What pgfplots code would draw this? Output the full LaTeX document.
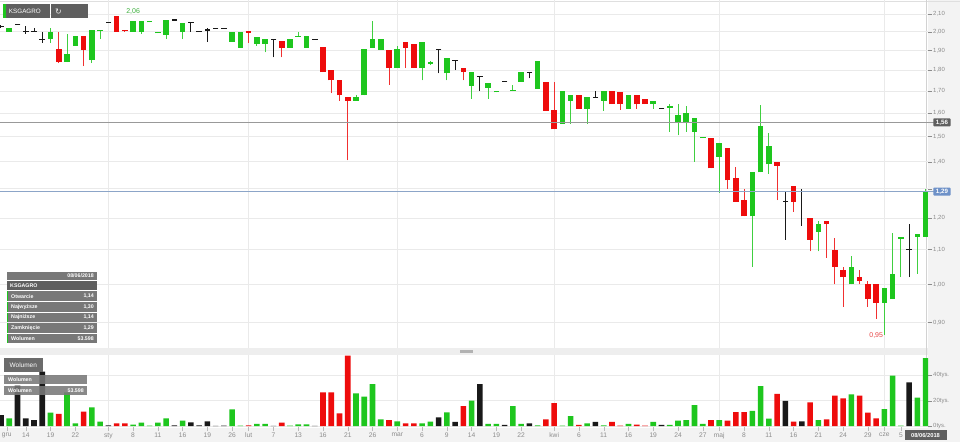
\documentclass[border=0pt]{standalone}
\usepackage{fontspec}
\setmainfont{Liberation Sans}
\newfontfamily\dejavu{DejaVu Sans}
\usepackage{pgfplots}
\usepackage{pgfplotstable}
\pgfplotsset{compat=1.18}
\definecolor{cgreen}{RGB}{30,198,30}
\definecolor{cred}{RGB}{238,12,12}
\definecolor{cblk}{RGB}{25,25,25}
\definecolor{gridc}{RGB}{234,234,234}
\definecolor{tickc}{RGB}{140,140,140}
\definecolor{stripc}{RGB}{243,243,243}
\definecolor{boxd}{RGB}{95,95,95}
\definecolor{boxl}{RGB}{120,120,120}
\definecolor{bluebox}{RGB}{110,145,200}
\definecolor{blueline}{RGB}{140,165,200}
\definecolor{lblgreen}{RGB}{60,175,60}
\definecolor{lblred}{RGB}{232,70,70}

% green candles: index, open, high, low, close, volume
\pgfplotstableread{
i o h l c v
1 2.00 2.02 2.00 2.02 6100
6 1.96 2.02 1.94 2.00 10500
8 1.84 1.99 1.84 1.88 26600
9 1.925 1.98 1.925 1.98 2100
11 1.85 2.01 1.835 2.01 14800
12 2.003 2.01 1.96 2.01 3400
16 2.00 2.06 2.00 2.06 1000
17 2.00 2.06 1.99 2.06 2600
18 2.053 2.06 2.053 2.06 300
19 1.993 2.00 1.993 2.00 2600
20 1.983 2.065 1.96 2.065 6100
22 2.00 2.05 1.96 2.05 4200
28 1.945 2.00 1.945 2.00 13200
29 1.915 2.00 1.915 2.00 300
31 1.935 1.97 1.925 1.97 1600
32 1.935 1.96 1.89 1.96 1600
35 1.915 1.96 1.915 1.96 300
36 1.973 2.00 1.973 1.98 1300
37 1.915 1.98 1.915 1.98 1300
43 1.655 1.68 1.655 1.67 25800
44 1.68 1.91 1.68 1.91 23200
45 1.915 2.06 1.915 1.96 33200
46 1.905 1.96 1.905 1.96 5300
48 1.81 1.925 1.81 1.91 3700
51 1.81 1.945 1.75 1.945 2100
52 1.83 1.845 1.825 1.84 3400
54 1.785 1.86 1.75 1.86 10800
57 1.725 1.79 1.665 1.79 20000
59 1.715 1.74 1.665 1.74 1600
60 1.694 1.70 1.694 1.70 1600
62 1.70 1.73 1.70 1.706 15800
63 1.745 1.79 1.745 1.79 1600
65 1.71 1.845 1.71 1.845 500
68 1.555 1.70 1.555 1.70 300
69 1.655 1.68 1.555 1.68 7900
71 1.62 1.67 1.555 1.67 2100
73 1.655 1.70 1.61 1.70 500
76 1.62 1.68 1.62 1.68 1600
79 1.64 1.655 1.62 1.655 3200
81 1.624 1.64 1.52 1.63 800
82 1.557 1.64 1.505 1.59 4200
83 1.557 1.63 1.52 1.60 4700
84 1.52 1.58 1.40 1.58 16600
85 1.494 1.50 1.494 1.50 1600
87 1.42 1.475 1.285 1.475 4700
91 1.205 1.36 1.05 1.36 11900
92 1.36 1.635 1.36 1.545 31600
93 1.39 1.515 1.355 1.46 5800
99 1.155 1.19 1.095 1.18 4700
103 1.00 1.08 1.00 1.05 25000
107 0.95 0.99 0.87 0.99 13400
108 0.96 1.15 0.96 1.03 39800
109 1.133 1.14 1.02 1.14 300
111 1.14 1.147 1.03 1.147 22400
112 1.14 1.30 1.14 1.29 53598
}\tg

% red candles
\pgfplotstableread{
i o h l c v
7 1.91 2.00 1.835 1.84 9500
10 1.98 1.98 1.82 1.905 11300
14 2.09 2.09 2.00 2.00 2100
15 2.012 2.012 2.00 2.003 2100
30 2.003 2.003 1.94 1.995 500
34 1.95 1.95 1.865 1.915 2600
39 1.92 1.92 1.79 1.79 26600
40 1.80 1.80 1.69 1.75 26600
41 1.75 1.75 1.655 1.68 10000
42 1.67 1.67 1.405 1.655 55600
47 1.905 1.905 1.73 1.81 4700
49 1.945 1.945 1.81 1.915 2100
50 1.935 1.935 1.81 1.81 2100
56 1.81 1.81 1.75 1.79 15800
66 1.745 1.745 1.61 1.61 5300
67 1.615 1.745 1.53 1.53 18000
70 1.68 1.68 1.62 1.62 800
74 1.70 1.70 1.64 1.64 3200
75 1.695 1.695 1.615 1.64 300
77 1.68 1.68 1.62 1.64 1000
78 1.665 1.665 1.64 1.64 300
86 1.495 1.495 1.375 1.375 4700
88 1.455 1.455 1.30 1.33 4200
89 1.34 1.38 1.255 1.255 11000
90 1.26 1.30 1.205 1.205 11000
94 1.40 1.40 1.26 1.385 25300
96 1.31 1.31 1.22 1.255 3400
98 1.20 1.20 1.095 1.13 18700
100 1.19 1.19 1.075 1.18 5300
101 1.10 1.135 1.00 1.05 24000
102 1.04 1.05 0.94 1.02 21900
104 1.02 1.04 1.00 1.01 24000
105 1.00 1.01 0.94 0.96 10500
106 1.00 1.00 0.91 0.95 6100
}\tr

% unchanged (black) candles: open = close
\pgfplotstableread{
i o h l v
0 2.03 2.035 2.02 8700
2 2.04 2.04 2.04 32000
3 2.00 2.03 1.99 6100
4 2.00 2.02 2.00 4700
5 1.96 2.00 1.94 43000
13 2.05 2.05 2.05 500
21 2.066 2.066 2.066 500
23 2.05 2.05 2.00 2900
24 2.00 2.00 2.00 500
25 2.01 2.02 1.945 3700
26 2.02 2.02 2.02 200
27 2.02 2.02 2.02 300
33 1.96 1.96 1.865 200
38 1.96 1.96 1.96 200
53 1.905 1.905 1.785 6900
55 1.85 1.85 1.80 3200
58 1.77 1.77 1.70 33200
61 1.745 1.745 1.745 800
64 1.79 1.79 1.76 2100
72 1.67 1.70 1.67 3200
80 1.62 1.62 1.62 800
95 1.255 1.29 1.13 19800
97 1.29 1.30 1.175 3700
110 1.10 1.18 1.02 34500
}\tb

\pgfplotsset{
  wick/.style={draw=none, mark=none, forget plot,
    error bars/.cd, y dir=plus, y explicit, error mark=none,
    error bar style={draw=#1, line width=1bp}},
  body/.style={draw=none, mark=none, forget plot,
    error bars/.cd, y dir=plus, y explicit, error mark=none,
    error bar style={draw=#1, line width=5.6bp}},
}

\begin{document}
\begin{tikzpicture}
\begin{scope}[x=1bp,y=1bp]
\fill[white] (0,0) rectangle (960,-442);
\fill[stripc] (928,0) rectangle (960,-442);
\fill[stripc] (0,-428) rectangle (960,-442);
\fill[gray!13] (0,-348) rectangle (928,-355);
\fill[gray!60] (460,-350.3) rectangle (473,-352.7);
\draw[gray!25, line width=1bp] (0,-1) -- (960,-1);
\draw[gray!35, line width=1bp] (926,0) -- (926,-427);
\end{scope}

% ---------------- price panel ----------------
\begin{axis}[
  at={(0bp,-348bp)}, anchor=south west, scale only axis,
  width=928bp, height=348bp,
  ymode=log, ymin=0.8396, ymax=2.1825,
  xmin=-0.121, xmax=112.28,
  axis line style={draw=none},
  clip mode=individual,
  ytick={0.9,1.0,1.1,1.2,1.3,1.4,1.5,1.6,1.7,1.8,1.9,2.0,2.1},
  yticklabels={{0,90},{1,00},{1,10},{1,20},{},{1,40},{1,50},{1,60},{1,70},{1,80},{1,90},{2,00},{2,10}},
  yticklabel pos=right, ytick pos=right, tick align=outside,
  major tick length=4bp,
  ytick style={draw=tickc, line width=0.4bp},
  yticklabel style={font=\fontsize{6}{7}\selectfont, text=tickc, inner sep=1bp},
  xtick={13,30,48,67,87,107}, xticklabels={}, xtick style={draw=none},
  ymajorgrids, xmajorgrids,
  grid style={gridc, line width=0.7bp},
]
% wicks
\addplot[wick=cgreen!85] table[x=i, y=l, y error expr=\thisrow{h}-\thisrow{l}] {\tg};
\addplot[wick=cred!85] table[x=i, y=l, y error expr=\thisrow{h}-\thisrow{l}] {\tr};
\addplot[wick=cblk] table[x=i, y=l, y error expr=\thisrow{h}-\thisrow{l}] {\tb};
% bodies
\addplot[body=cgreen] table[x=i, y=o, y error expr=\thisrow{c}-\thisrow{o}] {\tg};
\addplot[body=cred] table[x=i, y=c, y error expr=\thisrow{o}-\thisrow{c}] {\tr};
\addplot[only marks, mark=-, mark size=2.8bp, mark options={draw=cblk, line width=1.1bp}, forget plot]
  table[x=i, y=o] {\tb};
% reference lines and labels
\draw[gray!80, line width=0.8bp] (axis cs:-0.121,1.56) -- (axis cs:113.0,1.56);
\draw[blueline, line width=0.8bp] (axis cs:-0.121,1.29) -- (axis cs:113.0,1.29);
\node[fill=boxd, text=white, font=\bfseries\fontsize{6.2}{7}\selectfont, inner xsep=2.6bp, inner ysep=1.4bp, anchor=west, rounded corners=0.8bp]
  at (axis cs:112.9,1.56) {1,56};
\node[fill=bluebox, text=white, font=\bfseries\fontsize{6.2}{7}\selectfont, inner xsep=2.6bp, inner ysep=1.4bp, anchor=west, rounded corners=0.8bp]
  at (axis cs:112.9,1.29) {1,29};
\node[text=lblgreen, font=\fontsize{7}{8}\selectfont, anchor=south] at (axis cs:16,2.075) {2,06};
\node[text=lblred, font=\fontsize{7}{8}\selectfont, anchor=north] at (axis cs:106,0.885) {0,95};
\end{axis}

% ---------------- volume panel ----------------
\begin{axis}[
  at={(0bp,-427bp)}, anchor=south west, scale only axis,
  width=928bp, height=72bp,
  xmin=-0.121, xmax=112.28, ymin=-790, ymax=56125,
  axis line style={draw=none},
  ybar, bar width=5.6bp,
  scaled y ticks=false,
  ytick={0,20000,40000}, yticklabels={0tys.,20tys.,40tys.},
  yticklabel pos=right, ytick pos=right, tick align=outside,
  major tick length=4bp,
  ytick style={draw=tickc, line width=0.4bp},
  yticklabel style={font=\fontsize{6}{7}\selectfont, text=tickc, inner sep=1bp},
  ymajorgrids, grid style={gridc, line width=0.7bp},
  xtick={0.7,3,6,9,13,16,19,22,25,28,30,33,36,39,42,45,48,51,54,57,60,63,67,70,73,76,79,82,85,87,90,93,96,99,102,105,107,109},
  xticklabels={gru,14,19,22,sty,8,11,16,19,26,lut,7,13,16,21,26,mar,6,9,14,19,22,kwi,6,11,16,19,24,27,maj,8,11,16,21,24,29,cze,5},
  xtick pos=bottom, xtick style={draw=tickc!60, line width=0.4bp},
  xticklabel style={font=\fontsize{6.7}{7}\selectfont, text=tickc, inner sep=0pt, yshift=-1.5bp},
  extra x ticks={13,30,48,67,87,107}, extra x tick labels={},
  extra x tick style={xmajorgrids, major tick length=0pt},
]
\addplot[fill=cgreen, draw=none, bar shift=0pt] table[x=i, y=v] {\tg};
\addplot[fill=cred, draw=none, bar shift=0pt] table[x=i, y=v] {\tr};
\addplot[fill=cblk, draw=none, bar shift=0pt] table[x=i, y=v] {\tb};
\end{axis}

% ---------------- overlays ----------------
\begin{scope}[x=1bp,y=1bp]
% top-left instrument button
\fill[boxd] (3.3,-4) rectangle (50,-18.3);
\fill[cgreen] (3.3,-4) rectangle (5.6,-18.3);
\node[text=white, font=\fontsize{6.3}{7}\selectfont, anchor=west, inner sep=0] at (8.8,-11.2) {KSGAGRO};
\fill[boxd] (50.8,-4) rectangle (88.3,-18.3);
\node[text=white!85!gray, font=\dejavu\fontsize{8}{9}\selectfont, inner sep=0] at (58.5,-11.4) {↻};
% data tooltip
\fill[boxl] (6.7,-271.7) rectangle (96.7,-279.6);
\node[text=white, font=\bfseries\fontsize{5.3}{6}\selectfont, anchor=east, inner sep=0] at (94,-275.7) {08/06/2018};
\fill[boxd] (6.7,-280.8) rectangle (96.7,-290);
\node[text=white, font=\bfseries\fontsize{5.3}{6}\selectfont, anchor=west, inner sep=0] at (10,-285.4) {KSGAGRO};
\foreach \ya/\yb/\lab/\val in {291.4/301.2/Otwarcie/{1,14}, 302.2/311.9/Najwyższe/{1,30}, 312.8/322.3/Najniższe/{1,14}, 323.3/332.9/Zamknięcie/{1,29}, 333.9/343.4/Wolumen/53.598}{
  \fill[boxl] (6.7,-\ya) rectangle (96.7,-\yb);
  \fill[cgreen] (6.7,-\ya) rectangle (8.4,-\yb);
  \node[text=white, font=\bfseries\fontsize{5.3}{6}\selectfont, anchor=west, inner sep=0] at (11,{-(\ya+\yb)/2}) {\lab};
  \node[text=white, font=\bfseries\fontsize{5.3}{6}\selectfont, anchor=east, inner sep=0] at (94,{-(\ya+\yb)/2}) {\val};
}
% volume legend boxes
\fill[boxd, fill opacity=0.92] (4,-357.7) rectangle (42.7,-372.3);
\node[text=white, font=\fontsize{6.5}{7}\selectfont, inner sep=0] at (23.3,-365) {Wolumen};
\fill[boxl, fill opacity=0.88] (4,-375) rectangle (86.7,-384.4);
\node[text=white, font=\bfseries\fontsize{5.3}{6}\selectfont, anchor=west, inner sep=0] at (8,-379.7) {Wolumen};
\fill[boxl, fill opacity=0.88] (4,-385.6) rectangle (86.7,-395);
\node[text=white, font=\bfseries\fontsize{5.3}{6}\selectfont, anchor=west, inner sep=0] at (8,-390.3) {Wolumen};
\node[text=white, font=\bfseries\fontsize{5.3}{6}\selectfont, anchor=east, inner sep=0] at (84,-390.3) {53.598};
% current date marker
\fill[boxd] (904.5,-430) rectangle (946.5,-440);
\node[text=white, font=\bfseries\fontsize{5.8}{6}\selectfont, inner sep=0] at (925.5,-435) {08/06/2018};
\end{scope}
\pgfresetboundingbox
\useasboundingbox (0,0) rectangle (960bp,-442bp);
\end{tikzpicture}
\end{document}
